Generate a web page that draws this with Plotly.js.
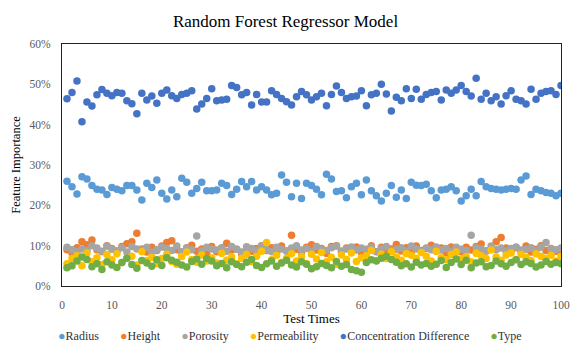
<!DOCTYPE html>
<html>
<head>
<meta charset="utf-8">
<script src="https://cdn.plot.ly/plotly-3.0.1.min.js"></script>
<style>html,body{margin:0;padding:0;background:#fff;}#chart{width:571px;height:344px;}</style>
</head>
<body>
<div id="chart"></div>
<script>
const seriesNames = ["Radius","Height","Porosity","Permeability","Concentration Difference","Type"];
const seriesColors = ["#5B9BD5","#ED7D31","#A5A5A5","#FFC000","#4472C4","#70AD47"];

const radius = [26.0,24.6,22.8,27.1,26.5,24.9,24.0,23.8,22.7,24.4,
24.0,23.6,24.9,24.9,23.8,21.3,25.5,24.4,26.3,23.0,
21.6,23.8,22.1,26.7,25.7,23.0,24.2,25.7,23.6,23.6,
23.8,25.5,24.9,22.7,24.0,25.9,24.6,25.9,23.8,24.6,
23.8,22.6,23.0,27.5,25.7,22.1,25.5,21.7,25.5,24.9,
24.0,22.6,27.7,26.5,23.4,23.6,21.9,24.6,25.5,22.6,
26.3,23.6,22.4,21.1,23.0,24.9,22.0,23.8,21.7,25.7,
25.0,24.9,25.2,23.6,21.9,23.8,24.0,24.6,23.6,21.1,
22.4,24.0,22.4,25.9,24.6,24.2,24.0,23.8,24.0,24.2,
24.0,26.3,27.3,22.7,24.0,23.6,23.2,23.0,22.4,23.0];

const height = [9.0,8.2,9.5,11.0,10.2,11.4,9.0,8.5,10.0,9.3,
8.7,9.8,10.5,11.0,13.1,9.2,8.4,9.6,8.8,9.9,
10.8,11.2,9.0,8.3,9.5,10.1,8.6,9.2,7.9,9.8,
8.5,9.4,10.6,8.9,9.1,8.0,9.7,8.6,9.3,10.0,
8.8,9.5,8.2,9.9,8.7,12.6,9.1,8.4,9.6,10.2,
8.9,9.3,8.1,9.8,10.0,8.6,9.4,8.8,9.7,8.3,
9.1,10.0,8.5,9.6,8.9,9.2,10.3,8.7,9.5,8.4,
9.9,8.8,9.3,10.1,8.6,9.4,8.2,9.7,9.0,8.5,
9.6,8.9,9.8,10.4,8.7,9.2,11.0,12.0,9.4,8.8,
9.5,8.6,9.9,8.4,9.1,10.0,8.8,9.3,8.6,9.0];

const porosity = [9.6,9.0,8.5,9.2,8.8,10.0,9.4,8.6,9.9,9.1,
8.7,9.5,8.4,9.8,9.2,8.9,9.6,8.3,9.0,9.7,
9.3,8.8,9.9,8.5,9.4,9.0,12.4,8.7,9.6,9.2,
8.9,9.5,8.6,9.8,9.1,8.4,9.7,9.3,8.8,9.9,
9.0,8.5,9.6,9.2,8.7,9.4,10.0,8.9,9.3,8.6,
9.8,9.1,8.8,9.5,9.9,8.6,9.2,9.7,8.9,9.4,
9.0,9.6,8.5,9.3,9.8,8.8,9.1,9.5,8.7,9.9,
9.2,8.6,9.4,9.0,9.7,8.9,9.3,8.5,9.6,9.1,
8.8,12.6,9.5,9.2,8.7,9.9,9.0,9.4,8.6,9.3,
9.7,8.9,9.1,9.5,8.8,9.6,10.8,9.2,9.0,9.4];

const permeability = [5.5,6.8,7.5,5.0,8.2,6.0,7.0,5.3,7.8,6.5,
8.0,5.8,6.9,7.4,5.2,8.5,6.3,7.1,5.6,6.8,
7.9,6.1,5.4,7.3,8.4,6.6,5.9,7.7,6.2,7.0,
5.7,8.1,6.4,7.2,5.5,6.9,7.8,6.0,7.4,8.6,
10.8,6.5,7.6,5.8,6.9,8.0,6.2,7.3,5.6,7.9,
6.7,8.3,6.0,7.1,5.4,7.7,6.6,8.2,6.1,7.0,
7.5,8.8,6.3,7.9,6.8,8.5,7.2,6.4,8.0,7.6,
6.9,8.3,7.4,6.2,8.6,7.0,6.5,7.8,8.4,6.7,
7.3,6.0,8.1,7.5,6.8,8.9,7.2,6.4,7.7,8.2,
6.6,7.9,7.1,6.3,8.0,7.4,6.8,7.6,6.2,7.3];

const concentration = [46.4,48.0,50.8,40.7,45.6,44.6,47.4,48.7,47.8,47.2,
48.0,47.8,45.9,45.2,42.7,47.8,46.1,47.1,45.3,47.8,
48.6,47.2,46.5,47.5,47.8,48.4,43.9,45.1,46.5,48.9,
45.9,46.1,46.3,49.7,49.2,47.4,48.0,44.9,47.5,45.6,
45.6,48.4,47.5,46.5,45.7,44.9,46.9,48.2,47.4,46.1,
46.9,47.8,44.7,47.5,49.6,48.0,46.5,46.9,47.1,48.4,
44.7,47.4,47.8,50.0,47.6,43.4,46.8,45.9,48.9,46.5,
48.8,46.3,47.5,48.0,48.2,46.1,48.6,47.8,48.6,49.7,
48.2,47.1,51.5,46.3,47.8,45.9,46.9,45.1,47.2,48.4,
46.3,45.9,45.1,48.8,46.3,47.8,48.2,48.4,47.5,49.7];

const type = [4.5,5.0,6.2,7.2,6.6,4.8,5.5,4.1,6.0,5.2,
4.6,5.8,6.9,5.3,4.4,6.3,5.7,4.9,6.5,5.1,
7.0,6.4,5.9,5.2,4.7,6.1,6.7,5.4,6.8,6.2,
5.0,5.6,4.5,6.0,5.3,4.8,5.9,6.6,5.1,4.6,
5.5,6.2,4.9,5.7,6.4,5.2,4.7,6.0,5.4,4.3,
4.8,5.6,5.1,4.5,6.1,4.9,5.3,4.1,3.8,3.4,
5.8,6.5,6.2,6.9,7.4,6.6,5.9,5.0,5.5,4.7,
5.9,5.2,5.6,4.9,5.4,6.3,4.6,5.8,6.7,5.3,
6.4,4.5,5.7,6.0,4.8,5.1,6.2,5.5,4.9,5.8,
6.5,5.3,6.0,5.6,4.7,5.2,6.1,5.4,5.8,5.5];

const testTimes = radius.map((_, i) => i + 1);
const allSeries = [radius, height, porosity, permeability, concentration, type];

const FONT = '"Liberation Serif", "Times New Roman", serif';

const traces = allSeries.map((vals, k) => ({
  type: "scatter",
  mode: "markers",
  name: seriesNames[k],
  x: testTimes,
  y: vals,
  marker: {color: seriesColors[k], size: 7.5, line: {width: 0}},
  showlegend: false,
  hoverinfo: "x+y+name"
}));

// Legend built as a single text line with coloured bullets (compact Excel style)
const legendText = seriesNames.map((n, k) =>
  `<span style="color:${seriesColors[k]};font-size:12.5px">●</span>${n}`).join("       ");

const layout = {
  width: 571, height: 344,
  margin: {l: 62, r: 10, t: 44, b: 58, autoexpand: false},
  paper_bgcolor: "#fff", plot_bgcolor: "#fff",
  font: {family: FONT, color: "#595959", size: 11},
  title: {text: "Random Forest Regressor Model", font: {family: FONT, size: 17, color: "#000"}, x: 0.5, xanchor: "center", y: 0.94, yanchor: "middle"},
  xaxis: {
    range: [0, 100], dtick: 10, tick0: 0,
    showgrid: false, zeroline: false,
    showline: true, linecolor: "#222", linewidth: 1.2, mirror: true,
    ticks: "", ticklabelstandoff: 8, ticklabeloverflow: "allow",
    tickfont: {family: FONT, size: 11.5, color: "#595959"},
    title: {text: "Test Times", font: {family: FONT, size: 13, color: "#000"}, standoff: 2}
  },
  yaxis: {
    range: [0, 60], dtick: 10, tick0: 0, ticksuffix: "%",
    showgrid: false, zeroline: false,
    showline: true, linecolor: "#222", linewidth: 1.2, mirror: true,
    ticks: "", ticklabelstandoff: 8,
    tickfont: {family: FONT, size: 11.5, color: "#595959"},
    title: {text: "Feature Importance", font: {family: FONT, size: 12.5, color: "#000"}, standoff: 6}
  },
  annotations: [{
    xref: "paper", yref: "paper",
    x: (290 - 62) / 499, y: (286 - 336) / 242,
    xanchor: "center", yanchor: "middle",
    showarrow: false,
    text: legendText,
    font: {family: FONT, size: 12, color: "#333"}
  }]
};

Plotly.newPlot("chart", traces, layout, {displayModeBar: false, staticPlot: true});
</script>
</body>
</html>
